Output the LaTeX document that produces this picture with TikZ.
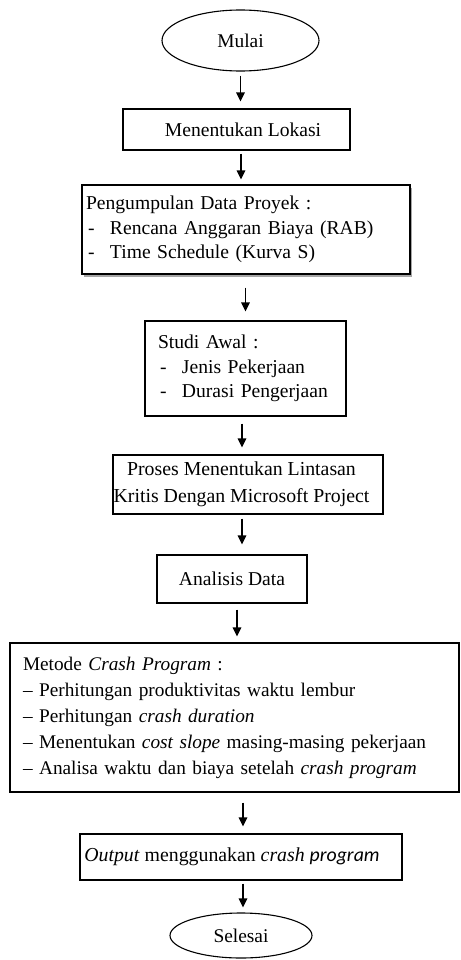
\documentclass[tikz,border=0pt]{standalone}
\usepackage{fontspec}
\setmainfont{Liberation Serif}
\newfontfamily\carlitofont{Carlito}
\usetikzlibrary{shapes.geometric,arrows.meta,shadows}
\newcommand{\itm}{\hspace*{2pt}\makebox[22pt][l]{-}}
\begin{document}
\begin{tikzpicture}[x=1pt,y=-1pt,
  box/.style={draw, line width=1.1pt, inner sep=0pt, font=\fontsize{19.6}{24.5}\selectfont},
  oval/.style={ellipse, draw, line width=1.1pt, inner sep=0pt, font=\fontsize{19.4}{24.5}\selectfont},
  arr/.style={line width=1.4pt, -{Triangle[width=8.5pt,length=9pt]}}]
\useasboundingbox (0,0) rectangle (460,960);

\node[oval, minimum width=157pt, minimum height=61pt] (mulai) at (240.5,40.5) {Mulai};
\node[box, minimum width=227pt, minimum height=41pt] (lokasi) at (236.5,129.5) {\hspace*{13pt}Menentukan Lokasi};
\node[box, minimum width=328pt, minimum height=89pt, text width=320pt, align=left,
  drop shadow={shadow xshift=2pt, shadow yshift=-2.5pt, fill=gray!70, opacity=1}, fill=white] (data) at (246,229.5)
  {Pengumpulan Data Proyek :\\ \itm Rencana Anggaran Biaya (RAB)\\ \itm Time Schedule (Kurva S)};
\node[box, minimum width=201pt, minimum height=95pt, text width=175pt, align=left] (studi) at (245.5,368.5)
  {Studi Awal :\\ \itm Jenis Pekerjaan\\ \itm Durasi Pengerjaan};
\node[box, minimum width=270pt, minimum height=59pt, align=center, font=\fontsize{19.8}{26.5}\selectfont] (proses) at (248,484.5)
  {Proses Menentukan Lintasan\hspace*{13pt}\\ Kritis Dengan Microsoft Project\hspace*{13pt}};
\node[box, minimum width=150pt, minimum height=48pt] (analisis) at (232,579) {Analisis Data};
\node[box, minimum width=449pt, minimum height=149pt, text width=423pt, align=left, font=\fontsize{19.3}{26}\selectfont] (metode) at (234.5,717.5)
  {Metode \textit{Crash Program} :\\
   -- Perhitungan produktivitas waktu lembur\\
   -- Perhitungan \textit{crash duration}\\
   -- Menentukan \textit{cost slope} masing-masing pekerjaan\\
   -- Analisa waktu dan biaya setelah \textit{crash program}};
\node[box, minimum width=322pt, minimum height=46pt, font=\fontsize{19.8}{24.5}\selectfont] (output) at (241,857)
  {\textit{Output} menggunakan \textit{crash} {\carlitofont\itshape program}\hspace*{18pt}};
\node[oval, minimum width=142pt, minimum height=45pt] (selesai) at (241,935.5) {Selesai};

\draw[arr] ([yshift=-4pt]mulai.south) -- ([yshift=7pt]mulai.south |- lokasi.north);
\draw[arr] ([xshift=4.5pt,yshift=-3pt]lokasi.south) -- ([xshift=4.5pt,yshift=5pt]lokasi.south |- data.north);
\draw[arr] ([yshift=-13pt]studi.north |- data.south) -- ([yshift=9pt]studi.north);
\draw[arr] ([xshift=-3.5pt,yshift=-7pt]studi.south) -- ([xshift=-3.5pt,yshift=7pt]studi.south |- proses.north);
\draw[arr] ([xshift=-6pt,yshift=-4pt]proses.south) -- ([xshift=-6pt,yshift=10pt]proses.south |- analisis.north);
\draw[arr] ([xshift=5pt,yshift=-6pt]analisis.south) -- ([xshift=5pt,yshift=6pt]analisis.south |- metode.north);
\draw[arr] ([xshift=2pt,yshift=-10pt]output.north |- metode.south) -- ([xshift=2pt,yshift=7pt]output.north);
\draw[arr] ([xshift=2pt,yshift=-3pt]selesai.north |- output.south) -- ([xshift=2pt,yshift=5pt]selesai.north);
\end{tikzpicture}
\end{document}
